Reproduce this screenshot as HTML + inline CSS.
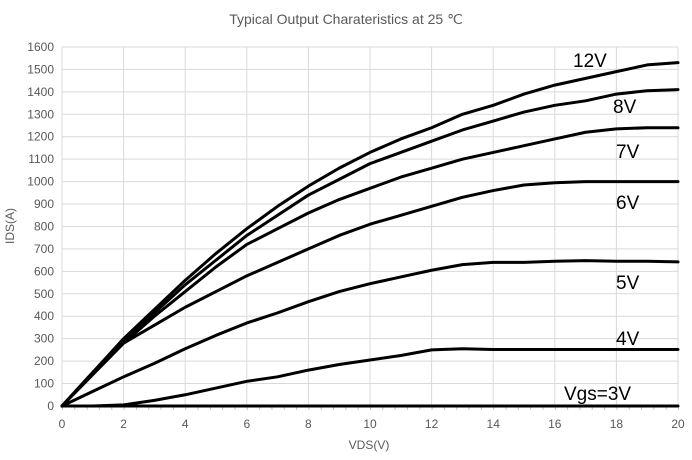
<!DOCTYPE html>
<html><head><style>body{margin:0;background:#fff}svg{display:block}</style></head><body>
<svg width="692" height="460" xmlns="http://www.w3.org/2000/svg" font-family="Liberation Sans, sans-serif">
<rect width="692" height="460" fill="#fff"/>
<text x="346" y="24" text-anchor="middle" font-size="14" fill="#595959">Typical Output Charateristics at 25 ℃</text>
<g stroke="#d9d9d9" stroke-width="1">
<line x1="62" x2="678" y1="383.56" y2="383.56"/><line x1="62" x2="678" y1="361.12" y2="361.12"/><line x1="62" x2="678" y1="338.68" y2="338.68"/><line x1="62" x2="678" y1="316.24" y2="316.24"/><line x1="62" x2="678" y1="293.8" y2="293.8"/><line x1="62" x2="678" y1="271.36" y2="271.36"/><line x1="62" x2="678" y1="248.92" y2="248.92"/><line x1="62" x2="678" y1="226.48" y2="226.48"/><line x1="62" x2="678" y1="204.04" y2="204.04"/><line x1="62" x2="678" y1="181.6" y2="181.6"/><line x1="62" x2="678" y1="159.16" y2="159.16"/><line x1="62" x2="678" y1="136.72" y2="136.72"/><line x1="62" x2="678" y1="114.28" y2="114.28"/><line x1="62" x2="678" y1="91.84" y2="91.84"/><line x1="62" x2="678" y1="69.4" y2="69.4"/><line x1="62" x2="678" y1="47" y2="47"/>
<line y1="47" y2="406" x1="62" x2="62"/><line y1="47" y2="406" x1="123.6" x2="123.6"/><line y1="47" y2="406" x1="185.2" x2="185.2"/><line y1="47" y2="406" x1="246.8" x2="246.8"/><line y1="47" y2="406" x1="308.4" x2="308.4"/><line y1="47" y2="406" x1="370" x2="370"/><line y1="47" y2="406" x1="431.6" x2="431.6"/><line y1="47" y2="406" x1="493.2" x2="493.2"/><line y1="47" y2="406" x1="554.8" x2="554.8"/><line y1="47" y2="406" x1="616.4" x2="616.4"/><line y1="47" y2="406" x1="678" x2="678"/>
<line x1="62" x2="679" y1="408" y2="408" stroke="#bfbfbf" stroke-width="4" stroke-dasharray="1 11.32"/>
</g>
<g font-size="12" fill="#595959" text-anchor="end">
<text x="54" y="410">0</text><text x="54" y="387.6">100</text><text x="54" y="365.1">200</text><text x="54" y="342.7">300</text><text x="54" y="320.2">400</text><text x="54" y="297.8">500</text><text x="54" y="275.4">600</text><text x="54" y="252.9">700</text><text x="54" y="230.5">800</text><text x="54" y="208">900</text><text x="54" y="185.6">1000</text><text x="54" y="163.2">1100</text><text x="54" y="140.7">1200</text><text x="54" y="118.3">1300</text><text x="54" y="95.8">1400</text><text x="54" y="73.4">1500</text><text x="54" y="51">1600</text>
</g>
<g font-size="12" fill="#595959" text-anchor="middle">
<text x="62" y="428">0</text><text x="123.6" y="428">2</text><text x="185.2" y="428">4</text><text x="246.8" y="428">6</text><text x="308.4" y="428">8</text><text x="370" y="428">10</text><text x="431.6" y="428">12</text><text x="493.2" y="428">14</text><text x="554.8" y="428">16</text><text x="616.4" y="428">18</text><text x="678" y="428">20</text>
</g>
<g fill="none" stroke="#000" stroke-width="3" stroke-linejoin="round" stroke-linecap="round" transform="translate(62,406) scale(30.8,-0.2244)">
<polyline vector-effect="non-scaling-stroke" points="0,0 1,150 2,300 3,430 4,560 5,680 6,790 7,890 8,980 9,1060 10,1130 11,1190 12,1240 13,1300 14,1340 15,1390 16,1430 17,1460 18,1490 19,1520 20,1530"/>
<polyline vector-effect="non-scaling-stroke" points="0,0 1,145 2,290 3,415 4,540 5,650 6,760 7,850 8,940 9,1010 10,1080 11,1130 12,1180 13,1230 14,1270 15,1310 16,1340 17,1360 18,1390 19,1405 20,1410"/>
<polyline vector-effect="non-scaling-stroke" points="0,0 1,140 2,280 3,400 4,510 5,620 6,720 7,790 8,860 9,920 10,970 11,1020 12,1060 13,1100 14,1130 15,1160 16,1190 17,1220 18,1235 19,1240 20,1240"/>
<polyline vector-effect="non-scaling-stroke" points="0,0 1,150 2,280 3,360 4,440 5,510 6,580 7,640 8,700 9,760 10,810 11,850 12,890 13,930 14,960 15,985 16,995 17,1000 18,1000 19,1000 20,1000"/>
<polyline vector-effect="non-scaling-stroke" points="0,0 1,65 2,130 3,190 4,255 5,315 6,370 7,415 8,465 9,510 10,545 11,575 12,605 13,630 14,640 15,640 16,645 17,648 18,645 19,645 20,642"/>
<polyline vector-effect="non-scaling-stroke" points="0,0 1,0 2,5 3,25 4,50 5,80 6,110 7,130 8,160 9,185 10,205 11,225 12,250 13,255 14,252 20,252"/>
<polyline vector-effect="non-scaling-stroke" points="0,0 20,0"/>
</g>
<text x="369" y="449" text-anchor="middle" font-size="12" fill="#595959">VDS(V)</text>
<text transform="translate(14,226) rotate(-90)" text-anchor="middle" font-size="12" fill="#595959">IDS(A)</text>
<g font-size="19" fill="#000">
<text x="573" y="67">12V</text>
<text x="613" y="113">8V</text>
<text x="616" y="158">7V</text>
<text x="616" y="209">6V</text>
<text x="616" y="289">5V</text>
<text x="616" y="345">4V</text>
<text x="564" y="400">Vgs=3V</text>
</g>
</svg>
</body></html>
